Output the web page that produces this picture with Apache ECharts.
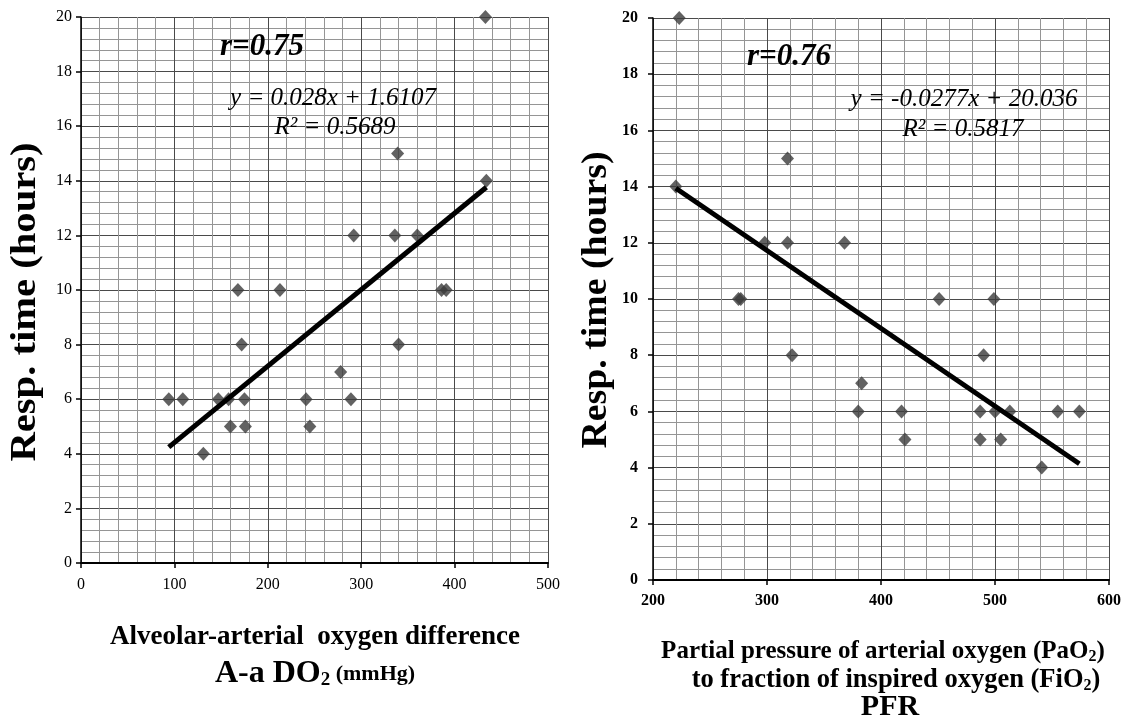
<!DOCTYPE html>
<html lang="en">
<head>
    <meta charset="UTF-8">
    <title>Resp. time vs A-a DO2 and PFR</title>
    <script src="https://cdn.jsdelivr.net/npm/echarts@6/dist/echarts.min.js"></script>
</head>
<style>
    *{
        margin: 0;
    }
    html,body{
        height: 100%;
        background: #fff;
    }
    #chart{
        width: 1124px;
        height: 723px;
    }
</style>
<body>
<div id="chart"></div>
<script>
    // left panel: A-a DO2 (mmHg) vs response time (hours)
    const aaDO2     = [433, 339, 434, 292, 336, 360, 168, 213, 386, 391, 172, 340, 278, 94, 109, 147, 158, 175, 241, 289, 160, 176, 245, 131];
    const respLeft  = [20, 15, 14, 12, 12, 12, 10, 10, 10, 10, 8, 8, 7, 6, 6, 6, 6, 6, 6, 6, 5, 5, 5, 4];
    const fitLeft   = [0.028, 1.6107];      // slope, intercept

    // right panel: PaO2/FiO2 vs response time (hours)
    const pfr       = [223, 220, 318, 298, 318, 368, 275, 277, 451, 499, 322, 490, 383, 380, 418, 487, 500, 513, 555, 574, 421, 487, 505, 541];
    const respRight = [20, 14, 15, 12, 12, 12, 10, 10, 10, 10, 8, 8, 7, 6, 6, 6, 6, 6, 6, 6, 5, 5, 5, 4];
    const fitRight  = [-0.0277, 20.036];

    const xTicksLeft  = [0, 500, 100];
    const xTicksRight = [200, 600, 100];
    const yTicks      = [0, 20, 2];

    const serif = 'Liberation Serif';
    const qserif = '"Liberation Serif", serif';

    function pairs(xs, ys){
        return xs.map((x, i) => [x, ys[i]]);
    }
    function fitLine(xs, f){
        let lo = Math.min(...xs), hi = Math.max(...xs);
        return [[lo, f[0]*lo + f[1]], [hi, f[0]*hi + f[1]]];
    }

    function xAxis(idx, t, bold, margin){
        return {
            type: 'value', gridIndex: idx, min: t[0], max: t[1], interval: t[2],
            axisLine: {lineStyle: {color: '#000', width: 2}},
            axisTick: {show: true, length: 5, lineStyle: {color: '#000', width: 1.5}},
            axisLabel: {color: '#000', fontFamily: serif, fontSize: 16, fontWeight: bold ? 'bold' : 'normal', margin: margin},
            splitLine: {show: true, lineStyle: {color: '#4a4a4a', width: 1}},
            minorTick: {show: false, splitNumber: 5},
            minorSplitLine: {show: true, lineStyle: {color: '#959595', width: 1}}
        };
    }
    function yAxis(idx, bold, margin){
        return {
            type: 'value', gridIndex: idx, min: yTicks[0], max: yTicks[1], interval: yTicks[2],
            axisLine: {show: true, lineStyle: {color: '#000', width: 1.5}},
            axisTick: {show: true, length: 5, lineStyle: {color: '#000', width: 1.5}},
            axisLabel: {color: '#000', fontFamily: serif, fontSize: 16, fontWeight: bold ? 'bold' : 'normal', margin: margin},
            splitLine: {show: true, lineStyle: {color: '#4a4a4a', width: 1}},
            minorTick: {show: false, splitNumber: 5},
            minorSplitLine: {show: true, lineStyle: {color: '#959595', width: 1}}
        };
    }

    function label(x, y, text, font, extra){
        return Object.assign({
            type: 'text', x: x, y: y, z: 10,
            style: {text: text, font: font, fill: '#000', align: 'center', verticalAlign: 'middle'}
        }, extra || {});
    }

    function richLabel(x, y, text, big, small){
        return {
            type: 'text', x: x, y: y, z: 10,
            style: {
                text: text, align: 'center', verticalAlign: 'middle',
                rich: {
                    a: {fontFamily: serif, fontWeight: 'bold', fontSize: big, fill: '#000'},
                    s: {fontFamily: serif, fontWeight: 'bold', fontSize: small, fill: '#000', verticalAlign: 'bottom'},
                    b: {fontFamily: serif, fontWeight: 'bold', fontSize: 22, fill: '#000'}
                }
            }
        };
    }

    let chart = echarts.init(document.getElementById('chart'));
    chart.setOption({
        backgroundColor: '#fff',
        animation: false,
        grid: [
            {left: 81, top: 17, width: 467, height: 546},
            {left: 653, top: 18, width: 456, height: 562}
        ],
        xAxis: [xAxis(0, xTicksLeft, false, 14), xAxis(1, xTicksRight, true, 13)],
        yAxis: [yAxis(0, false, 9), yAxis(1, true, 15)],
        series: [
            {
                type: 'scatter', xAxisIndex: 0, yAxisIndex: 0,
                symbol: 'diamond', symbolSize: [13, 14],
                itemStyle: {color: '#3b3b3b'},
                data: pairs(aaDO2, respLeft)
            },
            {
                type: 'line', xAxisIndex: 0, yAxisIndex: 0, z: 5,
                symbol: 'none', lineStyle: {color: '#000', width: 5},
                data: fitLine(aaDO2, fitLeft)
            },
            {
                type: 'scatter', xAxisIndex: 1, yAxisIndex: 1,
                symbol: 'diamond', symbolSize: [13, 14],
                itemStyle: {color: '#3b3b3b'},
                data: pairs(pfr, respRight)
            },
            {
                type: 'line', xAxisIndex: 1, yAxisIndex: 1, z: 5,
                symbol: 'none', lineStyle: {color: '#000', width: 5},
                data: fitLine(pfr, fitRight)
            }
        ],
        graphic: [
            // annotations inside the plots
            label(262, 47, 'r=0.75', 'italic bold 31px ' + qserif),
            label(333, 98, 'y = 0.028x + 1.6107', 'italic 25px ' + qserif),
            label(335, 127, 'R² = 0.5689', 'italic 25px ' + qserif),
            label(789, 57, 'r=0.76', 'italic bold 31px ' + qserif),
            label(964, 99, 'y = -0.0277x + 20.036', 'italic 25px ' + qserif),
            label(963, 129, 'R² = 0.5817', 'italic 25px ' + qserif),

            // axis titles
            label(26, 302, 'Resp. time (hours)', 'bold 35px ' + qserif, {rotation: Math.PI / 2, scaleX: 1.16}),
            label(597, 300, 'Resp. time (hours)', 'bold 35px ' + qserif, {rotation: Math.PI / 2, scaleX: 1.08}),
            label(315, 637, 'Alveolar-arterial  oxygen difference', 'bold 27px ' + qserif),
            richLabel(315, 674, '{a|A-a DO}{s|2}{b| (mmHg)}', 32, 19),
            richLabel(883, 652, '{a|Partial pressure of arterial oxygen (PaO}{s|2}{a|)}', 25, 16),
            richLabel(896, 680, '{a|to fraction of inspired oxygen (FiO}{s|2}{a|)}', 26.5, 16),
            label(890, 707, 'PFR', 'bold 30px ' + qserif)
        ]
    });
</script>
</body>
</html>
